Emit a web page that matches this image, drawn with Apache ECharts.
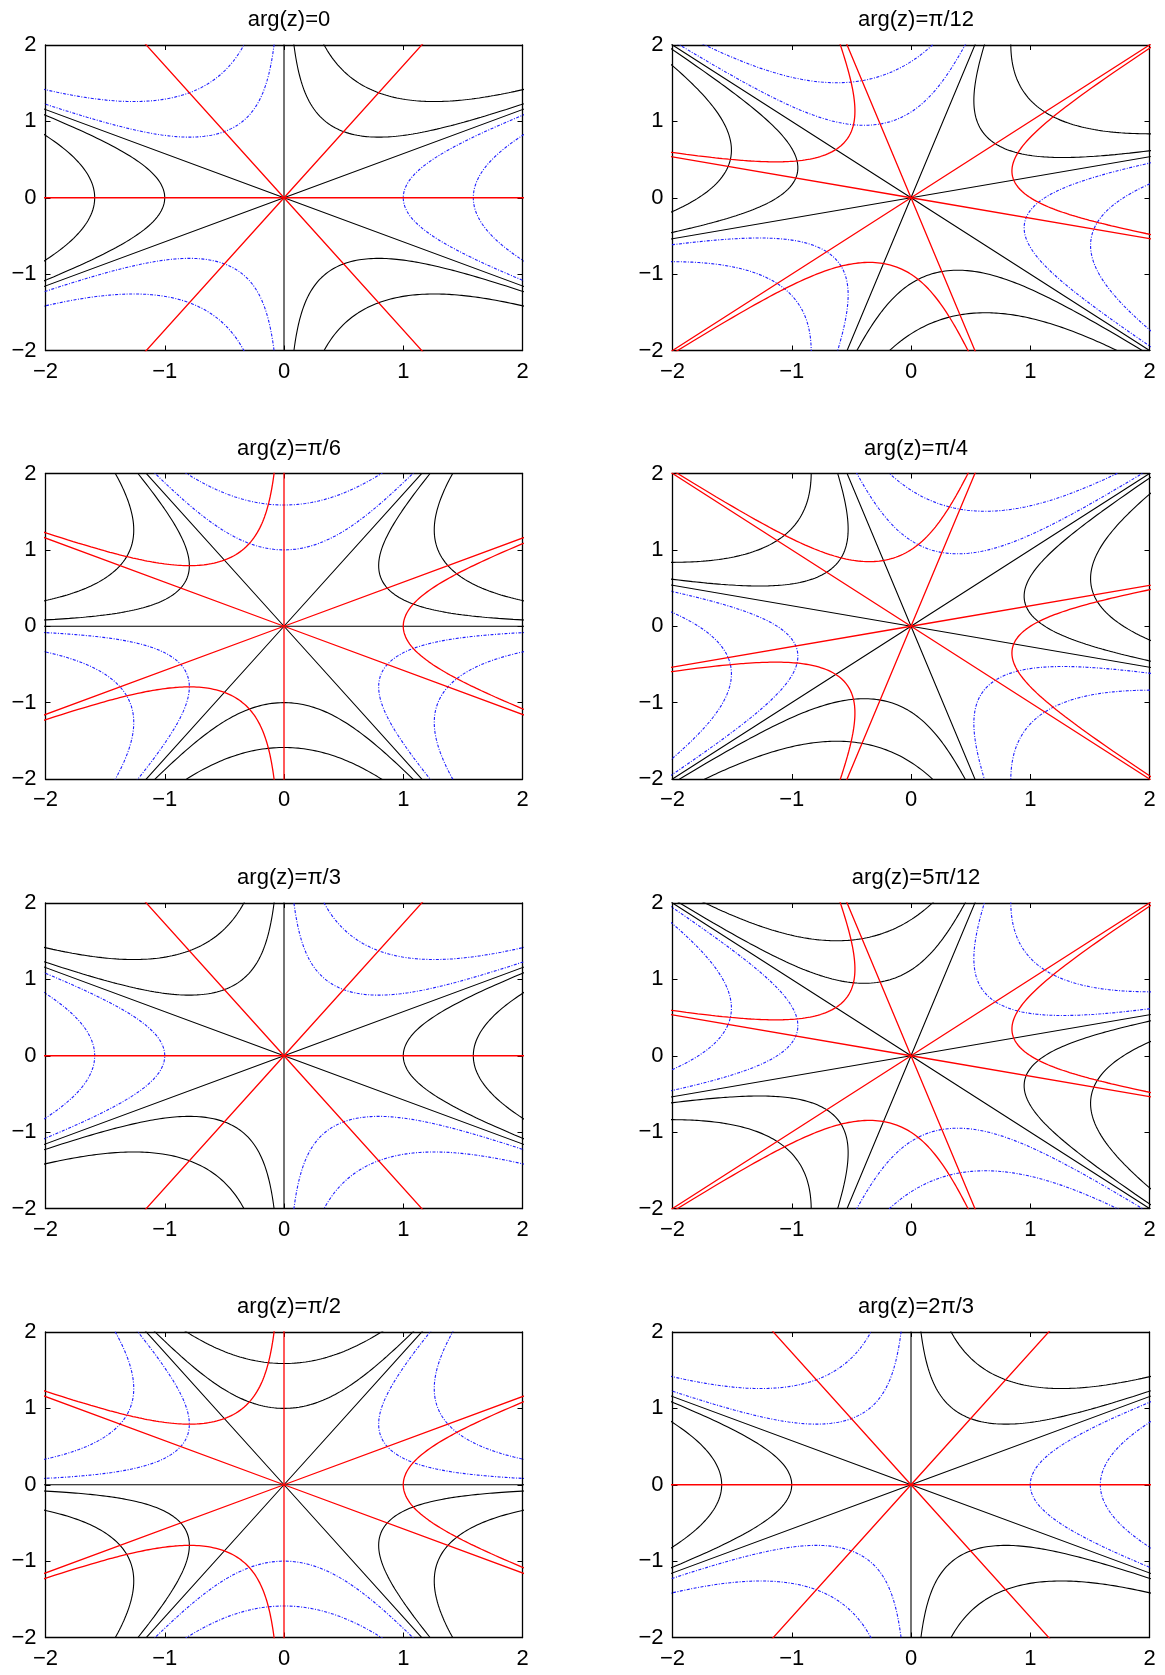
<!DOCTYPE html>
<html>
<head>
<meta charset="utf-8">
<script src="https://cdn.jsdelivr.net/npm/echarts@6/dist/echarts.min.js"></script>
<style>
html,body{margin:0;padding:0;background:#fff;}
#chart{width:1165px;height:1675px;}
</style>
</head>
<body>
<div id="chart"></div>
<script>
// Panel titles and the arg(z) value of each panel
const panelTitles = ['arg(z)=0','arg(z)=π/12','arg(z)=π/6','arg(z)=π/4','arg(z)=π/3','arg(z)=5π/12','arg(z)=π/2','arg(z)=2π/3'];
const panelArgs = [0, Math.PI/12, Math.PI/6, Math.PI/4, Math.PI/3, 5*Math.PI/12, Math.PI/2, 2*Math.PI/3];
// Contour levels of Re F (F = (e^{i arg z} t)^3): black (<=0) and blue (>0)
const reLevelsBlack = [-4, -1];
const reLevelsBlue = [1, 4];
// Extra level of Im F drawn in red for each panel (0 means only the Im F = 0 rays)
const imLevelsRed = [0, 0.71, 1, 0.71, 0, -0.71, -1, 0];
// Axis ticks
const tickValues = [-2, -1, 0, 1, 2];

const colLeft = [45.5, 672.5];
const rowTop = [45, 473.5, 903, 1332];
const gridW = 477, gridH = 305.5;

const FONT = '"Liberation Sans", Arial, Helvetica, sans-serif';

function levelCurve(mod0, baseAng, theta, k) {
  // points of the set where F = e^{i(baseAng+beta)} * mod0/cos(beta)
  const bmax = Math.acos(Math.min(1, Math.abs(mod0) / 30));
  const N = 400, pts = [];
  for (let i = 0; i <= N; i++) {
    const b = -bmax + 2 * bmax * i / N;
    const m = Math.abs(mod0) / Math.cos(b);
    const r = Math.cbrt(m);
    const phi = (baseAng + b + 2 * Math.PI * k) / 3 - theta;
    pts.push([r * Math.cos(phi), r * Math.sin(phi)]);
  }
  return pts;
}
function rayLine(angle) {
  const R = 3.2;
  return [[-R * Math.cos(angle), -R * Math.sin(angle)], [0, 0], [R * Math.cos(angle), R * Math.sin(angle)]];
}

const grids = [], xAxes = [], yAxes = [], series = [], titles = [];
const fmt = v => (v < 0 ? '\u2212' + (-v) : '' + v);

panelTitles.forEach((t, p) => {
  const col = p % 2, row = Math.floor(p / 2);
  const left = colLeft[col], top = rowTop[row];
  grids.push({ left: left, top: top, width: gridW, height: gridH, containLabel: false });
  titles.push({
    text: t, left: left + gridW / 2, top: top - 41, textAlign: 'center',
    textStyle: { fontFamily: FONT, fontSize: 22, fontWeight: 'normal', color: '#000' }
  });
  const axBase = {
    type: 'value', min: -2, max: 2, interval: 1, gridIndex: p,
    splitLine: { show: false },
    axisLine: { show: true, onZero: false, lineStyle: { color: '#000', width: 1.3 } },
    axisTick: { show: true, inside: true, length: 5, lineStyle: { color: '#000', width: 1 } }
  };
  const xi = xAxes.length, yi = yAxes.length;
  xAxes.push(Object.assign({}, axBase, { position: 'bottom',
    axisLabel: { show: true, margin: 10, fontFamily: FONT, fontSize: 22, color: '#000', formatter: fmt, customValues: tickValues } }));
  xAxes.push(Object.assign({}, axBase, { position: 'top', axisLabel: { show: false } }));
  yAxes.push(Object.assign({}, axBase, { position: 'left',
    axisLabel: { show: true, margin: 9, fontFamily: FONT, fontSize: 22, color: '#000', formatter: fmt } }));
  yAxes.push(Object.assign({}, axBase, { position: 'right', axisLabel: { show: false } }));

  const theta = panelArgs[p];
  const add = (data, color, width, type, z) => series.push({
    type: 'line', xAxisIndex: xi, yAxisIndex: yi, data: data, showSymbol: false, symbol: 'none',
    clip: true, silent: true, z: z,
    lineStyle: { color: color, width: width, type: type }
  });
  // Re F = 0 rays (black)
  for (let m = 0; m < 3; m++) add(rayLine((Math.PI / 2 + m * Math.PI) / 3 - theta), '#000', 1.1, 'solid', 3);
  // Re F = negative levels (black)
  reLevelsBlack.forEach(c => { for (let k = 0; k < 3; k++) add(levelCurve(c, Math.PI, theta, k), '#000', 1.1, 'solid', 3); });
  // Re F = positive levels (blue dotted)
  reLevelsBlue.forEach(c => { for (let k = 0; k < 3; k++) add(levelCurve(c, 0, theta, k), '#1f1fff', 1.1, [3, 1.5, 1, 1.5], 2); });
  // Im F = 0 rays (red)
  for (let m = 0; m < 3; m++) add(rayLine(m * Math.PI / 3 - theta), '#ff0000', 1.3, 'solid', 4);
  // Im F = d curves (red)
  const d = imLevelsRed[p];
  if (d !== 0) {
    const base = d > 0 ? Math.PI / 2 : -Math.PI / 2;
    for (let k = 0; k < 3; k++) add(levelCurve(d, base, theta, k), '#ff0000', 1.3, 'solid', 4);
  }
});

const chart = echarts.init(document.getElementById('chart'), null, { renderer: 'canvas' });
chart.setOption({
  animation: false,
  backgroundColor: '#fff',
  title: titles,
  grid: grids,
  xAxis: xAxes,
  yAxis: yAxes,
  series: series
});
</script>
</body>
</html>
